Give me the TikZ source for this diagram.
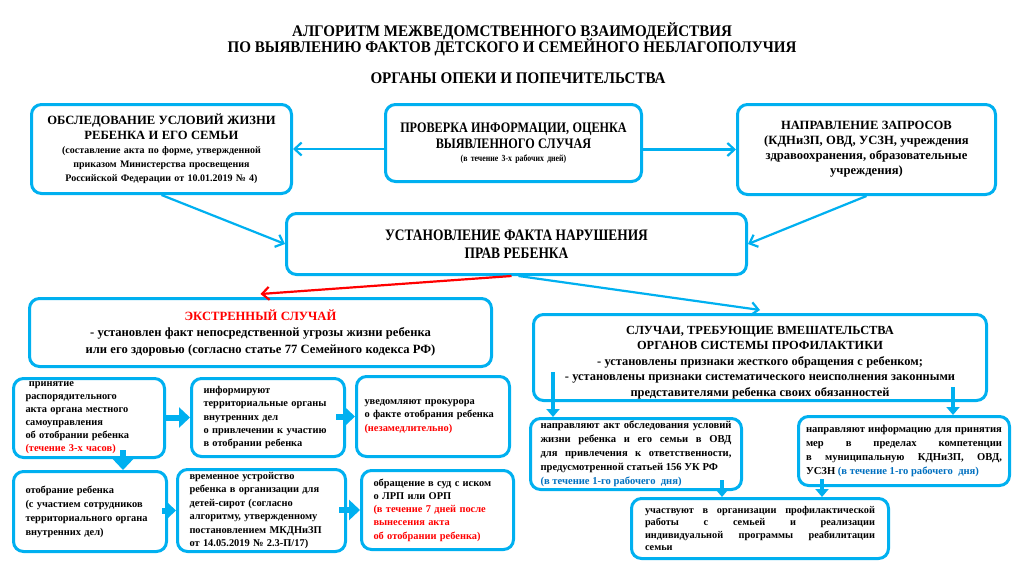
\documentclass[tikz,border=0pt]{standalone}
\usepackage{fontspec}
\setmainfont{Liberation Serif}
\newfontfamily\cond[FakeStretch=0.84]{Liberation Serif}
\newfontfamily\condt[FakeStretch=0.93]{Liberation Serif}
\usetikzlibrary{arrows.meta}
\definecolor{cy}{RGB}{0,176,240}
\definecolor{bl}{RGB}{0,112,192}
\definecolor{rd}{RGB}{255,0,0}
\tikzset{
  bx/.style={draw=cy, line width=3pt, rounded corners=10pt, fill=white, anchor=north west, inner sep=3pt, font=\bfseries},
  sbx/.style={bx, align=left, inner xsep=12pt, inner ysep=1pt},
  thin/.style={draw=cy, line width=2.2pt, -{Straight Barb[length=7pt,width=13pt,line width=2.2pt]}},
  thick/.style={draw=cy, line width=6pt, -{Triangle[length=11pt,width=20pt]}},
  mid/.style={draw=cy, line width=4pt, -{Triangle[length=8pt,width=13pt]}},
  ttl/.style={font=\condt\bfseries\fontsize{16.2}{16}\selectfont, align=center, inner sep=0pt}
}
\begin{document}
\begin{tikzpicture}[x=1pt,y=-1pt]
\useasboundingbox[fill=white] (0,0) rectangle (1024,576);

\node[ttl] (t1) at (512,39) {АЛГОРИТМ МЕЖВЕДОМСТВЕННОГО ВЗАИМОДЕЙСТВИЯ\\[-2pt]ПО ВЫЯВЛЕНИЮ ФАКТОВ ДЕТСКОГО И СЕМЕЙНОГО НЕБЛАГОПОЛУЧИЯ};
\node[ttl] (t2) at (518,78) {ОРГАНЫ ОПЕКИ И ПОПЕЧИТЕЛЬСТВА};

% top row
\node[bx, minimum width=260, minimum height=89, text width=252, align=center, inner sep=2pt] (tl) at (30,103)
 {{\fontsize{12.6}{15}\selectfont ОБСЛЕДОВАНИЕ УСЛОВИЙ ЖИЗНИ\\ РЕБЕНКА И ЕГО СЕМЬИ\par}
  {\fontsize{10}{14}\selectfont (составление акта по форме, утвержденной\\ приказом Министерства просвещения\\ Российской Федерации от 10.01.2019 № 4)\par}};
\node[bx, minimum width=256, minimum height=77, text width=246, align=center] (tc) at (384,103)
 {{\cond\fontsize{14.5}{15.5}\selectfont ПРОВЕРКА ИНФОРМАЦИИ, ОЦЕНКА\\ ВЫЯВЛЕННОГО СЛУЧАЯ\par}
  {\cond\fontsize{9.3}{13}\selectfont (в течение 3-х рабочих дней)\par}};
\node[bx, minimum width=258, minimum height=90, text width=248, align=center] (tr) at (736,103)
 {{\fontsize{12.6}{15}\selectfont НАПРАВЛЕНИЕ ЗАПРОСОВ\\ (КДНиЗП, ОВД, УСЗН, учреждения\\ здравоохранения, образовательные\\ учреждения)\par}};

% central
\node[bx, minimum width=460, minimum height=61, text width=440, align=center] (ce) at (285,212)
 {{\cond\fontsize{16}{18}\selectfont УСТАНОВЛЕНИЕ ФАКТА НАРУШЕНИЯ\\ ПРАВ РЕБЕНКА\par}};

% emergency
\node[bx, minimum width=462, minimum height=68, text width=452, align=center, inner sep=2pt] (em) at (28,297)
 {{\fontsize{12.6}{16.5}\selectfont {\color{rd}ЭКСТРЕННЫЙ СЛУЧАЙ}\\ - установлен факт непосредственной угрозы жизни ребенка\\ или его здоровью (согласно статье 77 Семейного кодекса РФ)\par}\vspace{3pt}};

% prophylaxis
\node[bx, minimum width=453, minimum height=86] (pr) at (532,313) {};
\node[font=\bfseries, text width=445, align=center, inner sep=0pt] (prt) at ([yshift=-5]pr.center)
 {{\fontsize{12.4}{15.6}\selectfont СЛУЧАИ, ТРЕБУЮЩИЕ ВМЕШАТЕЛЬСТВА\\ ОРГАНОВ СИСТЕМЫ ПРОФИЛАКТИКИ\\ - установлены признаки жесткого обращения с ребенком;\\ - установлены признаки систематического неисполнения законными\\ представителями ребенка своих обязанностей\par}};

% left small boxes
\node[sbx, minimum width=151, minimum height=79, text width=127] (a) at (12,377)
 {{\fontsize{10.4}{13}\selectfont \ принятие\\ распорядительного\\ акта органа местного\\ самоуправления\\ об отобрании ребенка\\ {\color{rd}(течение 3-х часов)}\par}};
\node[sbx, minimum width=153, minimum height=78, text width=129] (b) at (190,377)
 {{\fontsize{10.4}{13.3}\selectfont информируют\\ территориальные органы\\ внутренних дел\\ о привлечении к участию\\ в отобрании ребенка\par}};
\node[sbx, minimum width=153, minimum height=80, text width=137, inner xsep=8pt] (c) at (355,375)
 {{\fontsize{10.4}{13.3}\selectfont уведомляют прокурора\\ о факте отобрания ребенка\\ {\color{rd}(незамедлительно)}\par}};
\node[sbx, minimum width=153, minimum height=80, text width=129] (d) at (12,470)
 {{\fontsize{10.4}{14}\selectfont отобрание ребенка\\ (с участием сотрудников\\ территориального органа\\ внутренних дел)\par}};
\node[sbx, minimum width=168, minimum height=82, text width=144] (e) at (176,468)
 {{\fontsize{10.4}{13.4}\selectfont временное устройство\\ ребенка в организации для\\ детей-сирот (согласно\\ алгоритму, утвержденному\\ постановлением МКДНиЗП\\ от 14.05.2019 № 2.3-П/17)\par}};
\node[sbx, minimum width=152, minimum height=79, text width=128] (f) at (360,469)
 {{\fontsize{10.4}{13.3}\selectfont обращение в суд с иском\\ о ЛРП или ОРП\\ {\color{rd}(в течение 7 дней после\\ вынесения акта\\ об отобрании ребенка)}\par}};

% right boxes
\node[bx, minimum width=211, minimum height=71, text width=191, align=justify, inner xsep=10pt, inner ysep=1pt] (g) at (529,417)
 {{\fontsize{10.6}{14}\selectfont направляют акт обследования условий\linebreak жизни ребенка и его семьи в ОВД\linebreak для привлечения к ответственности,\linebreak предусмотренной статьей 156 УК РФ\\ {\color{bl}(в течение 1-го рабочего\ \ дня)}\par}};
\node[bx, minimum width=211, minimum height=69, text width=196, align=justify, inner xsep=7.5pt, inner ysep=2pt] (h) at (797,415)
 {{\fontsize{10.6}{14}\selectfont направляют информацию для принятия\linebreak мер в пределах компетенции\linebreak в муниципальную КДНиЗП, ОВД,\linebreak УСЗН {\color{bl}(в течение 1-го рабочего\ \ дня)}\par}};
\node[bx, minimum width=257, minimum height=60, text width=230, align=justify, inner xsep=13pt, inner ysep=3pt] (i) at (630,497)
 {{\fontsize{10.3}{12.6}\selectfont участвуют в организации профилактической\linebreak работы с семьей и реализации\linebreak индивидуальной программы реабилитации\linebreak семьи\par}\vspace{2pt}};

% arrows top
\draw[thin] (tc.west |- tl.east) -- (tl.east);
\draw[thin] (tc.east |- tr.west) -- (tr.west);
\draw[thin] (tl.south) -- (ce.west);
\draw[thin] (tr.south) -- (ce.east);
\draw[thin, draw=rd, -{Straight Barb[length=7pt,width=13pt,line width=2.2pt]}] ([xshift=-5]ce.south) -- ([yshift=3]em.north);
\draw[thin] ([xshift=2]ce.south) -- ([yshift=3]pr.north);

% thick arrows left
\coordinate (ab) at ([xshift=-2]a.east |- b.west);
\draw[thick] (ab) -- (b.west);
\coordinate (bc) at ([xshift=-10]b.east |- c.west);
\draw[thick] (bc) -- (c.west);
\coordinate (ad) at ([shift={(34,-9)}]a.south);
\draw[thick] (ad) -- (ad |- d.north);
\coordinate (de) at ([xshift=-6]d.east |- e.west);
\draw[thick] (de) -- (e.west);
\coordinate (ef) at ([xshift=-8]e.east |- f.west);
\draw[thick] (ef) -- (f.west);

% right arrows
\coordinate (pl) at ([shift={(21,-30)}]pr.south west);
\draw[mid] (pl) -- (pl |- g.north);
\coordinate (pq) at ([shift={(-35,-15)}]pr.south east);
\draw[mid] (pq) -- (pq |- h.north);
\coordinate (gi) at ([shift={(-21,-11)}]g.south east);
\draw[mid] (gi) -- (gi |- i.north);
\coordinate (hi) at ([shift={(25,-8)}]h.south west);
\draw[mid] (hi) -- (hi |- i.north);
\end{tikzpicture}
\end{document}
